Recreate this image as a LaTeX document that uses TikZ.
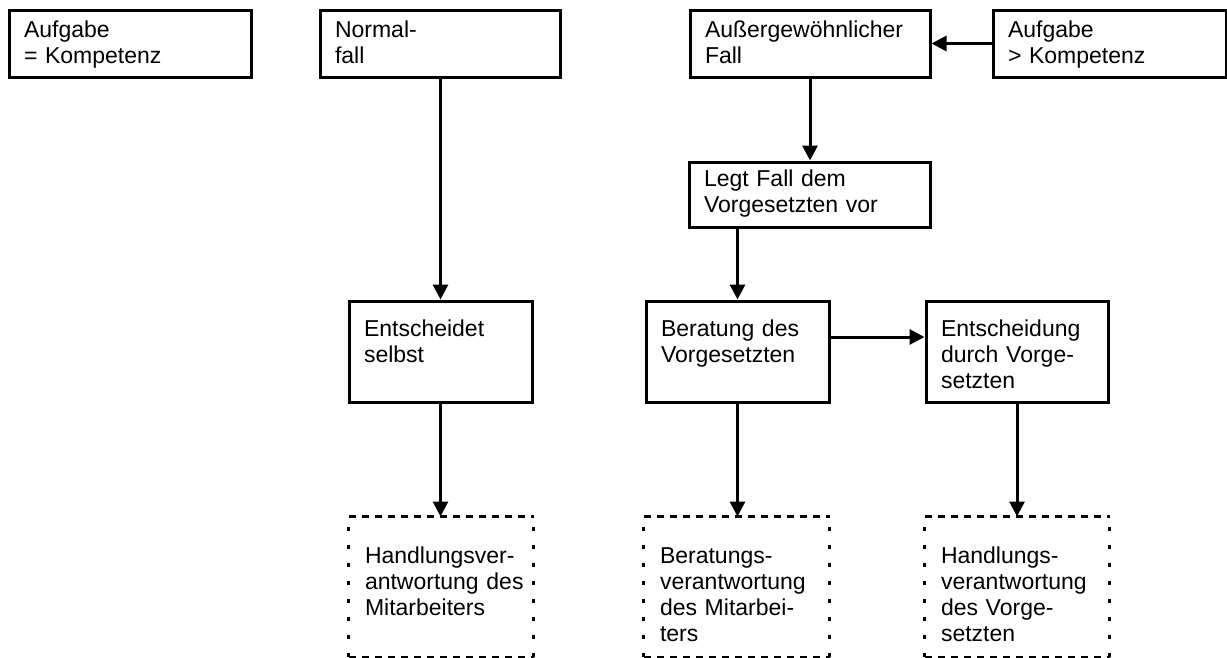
\documentclass[tikz,border=0pt]{standalone}
\usepackage{fontspec}
\setmainfont{Liberation Sans}
\usetikzlibrary{arrows.meta}

\tikzset{
  box/.style={draw,line width=3pt,align=left,inner xsep=15pt,inner ysep=0pt,
    font=\fontsize{23}{26}\selectfont},
  flat/.style={box,text height=27pt,text depth=40pt},
  tall/.style={box,text height=35pt,text depth=66pt},
  resp/.style={box,draw=none,text height=45pt,text depth=93pt},
  hdash/.style={line width=3pt,dash pattern=on 7pt off 6pt},
  vdash/.style={line width=3pt,dash pattern=on 4pt off 14pt,dash phase=-10pt},
  arr/.style={line width=3pt,-{Triangle[length=15pt,width=15pt]}}
}

\begin{document}
\begin{tikzpicture}[x=1pt,y=-1pt]

      \useasboundingbox (0,0) rectangle (1227,657);

      \begin{scope}[every node/.style={flat}]
        \node[text width=212pt] (aeq)    at (130,43.5)    {Aufgabe\\= Kompetenz};
        \node[text width=210pt] (normal) at (440,43.5)    {Normal-\\fall};
        \node[text width=210pt] (ausser) at (810,43.5)    {Außergewöhnlicher\\Fall};
        \node[text width=203pt] (agt)    at (1109.5,43.5) {Aufgabe\\> Kompetenz};
        \node[text width=211pt,text height=24pt,text depth=41pt]
                                (legt)   at (809.5,194.5) {Legt Fall dem\\Vorgesetzten~vor};
      \end{scope}

      \begin{scope}[every node/.style={tall}]
        \node[text width=153pt] (selbst)   at (440.5,351.5) {Entscheidet\\selbst};
        \node[text width=153pt] (beratung) at (737.5,351.5) {Beratung~des\\Vorgesetzten};
        \node[text width=152pt] (entsch)   at (1017,351.5)  {Entscheidung\\durch~Vorge-\\setzten};
      \end{scope}

      \begin{scope}[every node/.style={resp}]
        \node[text width=152pt] (hvm) at (441,587)   {Handlungsver-\\antwortung~des\\Mitarbeiters};
        \node[text width=153pt] (bvm) at (736.5,587) {Beratungs-\\verantwortung\\des~Mitarbei-\\ters};
        \node[text width=152pt] (hvv) at (1017,587)  {Handlungs-\\verantwortung\\des~Vorge-\\setzten};
      \end{scope}

      % dotted frames: sides are sparser than top and bottom
      \foreach \n in {hvm,bvm,hvv} {
        \draw[hdash] (\n.north west) -- (\n.north east) (\n.south west) -- (\n.south east);
        \draw[vdash] (\n.north west) -- (\n.south west) (\n.north east) -- (\n.south east);
      }

      \begin{scope}[every path/.style={arr}]
        \draw (agt.west) -- (ausser.east);
        \draw (ausser.south) -- (ausser.south |- legt.north);
        \draw (beratung.north |- legt.south) -- (beratung.north);
        \draw (selbst.north |- normal.south) -- (selbst.north);
        \draw ([yshift=14.5pt]beratung.east) -- ([yshift=14.5pt]beratung.east -| entsch.west);
        \draw (selbst.south) -- (selbst.south |- hvm.north);
        \draw (beratung.south) -- (beratung.south |- bvm.north);
        \draw (entsch.south) -- (entsch.south |- hvv.north);
      \end{scope}

    \end{tikzpicture}
\end{document}
